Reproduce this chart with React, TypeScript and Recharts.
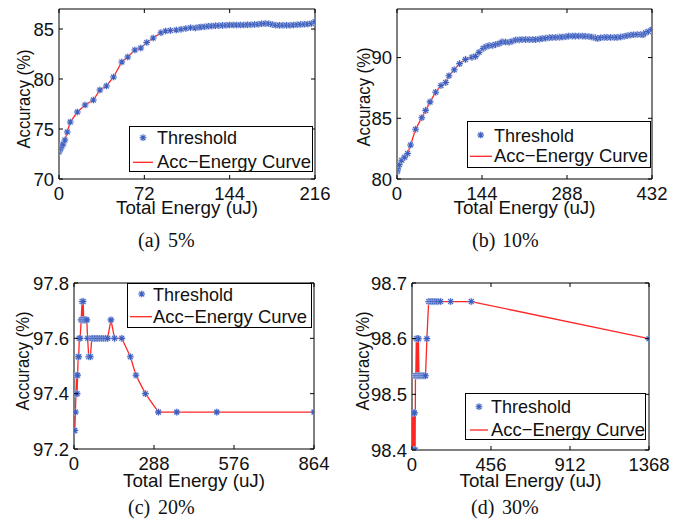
import React from 'react';
import { LineChart, Line, XAxis, YAxis, ReferenceArea, Legend } from 'recharts';

// ---------- data ----------
const aX = [0, 0.5, 1, 1.5, 2.5, 3.5, 5, 7, 9.5, 15.5, 22, 29, 34.5, 40, 46, 53, 58, 64, 69, 74, 79.5, 86, 90, 94, 99, 103, 107, 111, 115, 118, 120, 123, 126, 129, 132, 135, 138, 141, 144, 147, 150, 153, 156, 159, 162, 165, 168, 171, 174, 177, 180, 183, 186, 189, 192, 195, 198, 201, 204, 207, 210, 213, 216];
const aY = [72.7, 72.9, 73.0, 73.1, 73.3, 73.5, 73.9, 74.7, 75.7, 76.7, 77.4, 77.9, 78.9, 79.3, 80.2, 81.7, 82.2, 82.9, 83.1, 83.65, 84.1, 84.63, 84.8, 84.85, 84.9, 84.97, 85.05, 85.13, 85.1, 85.17, 85.2, 85.22, 85.28, 85.3, 85.32, 85.34, 85.36, 85.38, 85.4, 85.4, 85.4, 85.4, 85.4, 85.42, 85.43, 85.45, 85.47, 85.52, 85.54, 85.53, 85.45, 85.38, 85.37, 85.37, 85.37, 85.38, 85.4, 85.43, 85.46, 85.48, 85.5, 85.55, 85.73];

const bX = [0, 0.5, 1, 2, 4, 8, 13, 18, 23, 31.5, 42, 48.5, 56, 65.5, 74.5, 82.5, 88, 97, 106, 116, 127, 133, 139, 146, 151, 156, 162, 167, 173, 178, 184, 190, 195, 201, 207, 212, 218, 224, 230, 235, 241, 246, 252, 258, 263, 269, 275, 280, 286, 291, 297, 302, 308, 314, 319, 325, 330, 336, 340, 345, 351, 356, 362, 368, 373, 379, 385, 390, 396, 401, 407, 413, 417, 421, 426, 432];
const bY = [80.6, 80.7, 80.8, 81.0, 81.2, 81.55, 81.8, 82.1, 82.8, 84.1, 85.05, 85.65, 86.35, 87.15, 87.7, 87.95, 88.5, 89.0, 89.5, 89.85, 90.02, 90.1, 90.43, 90.76, 90.9, 90.98, 91.0, 91.07, 91.15, 91.29, 91.28, 91.26, 91.35, 91.45, 91.46, 91.48, 91.48, 91.48, 91.48, 91.48, 91.52, 91.56, 91.6, 91.64, 91.65, 91.66, 91.68, 91.7, 91.72, 91.77, 91.77, 91.77, 91.77, 91.77, 91.76, 91.74, 91.7, 91.62, 91.58, 91.63, 91.66, 91.66, 91.66, 91.66, 91.66, 91.7, 91.75, 91.8, 91.86, 91.88, 91.9, 91.9, 91.88, 92.05, 92.15, 92.32];

const cX = [0, 3, 5, 7, 9, 11, 13, 15, 17, 19, 22, 26, 29, 31, 33, 35, 38, 42, 46, 49, 53, 59, 64, 68, 74, 80, 86, 93, 100, 107, 114, 121, 133, 146, 172, 203, 223, 257, 304, 370, 514, 864];
const cY = [97.2667, 97.2667, 97.3333, 97.4, 97.4667, 97.4, 97.4667, 97.5333, 97.5333, 97.6, 97.6, 97.6667, 97.7333, 97.6667, 97.7333, 97.6667, 97.6667, 97.6667, 97.6667, 97.6, 97.5333, 97.5333, 97.6, 97.6, 97.6, 97.6, 97.6, 97.6, 97.6, 97.6, 97.6, 97.6, 97.6667, 97.6, 97.6, 97.5333, 97.4667, 97.4, 97.3333, 97.3333, 97.3333, 97.3333];

const dX = [0, 2, 4, 6, 8, 10, 12, 14, 16, 18, 20, 22, 25, 28, 31, 34, 37, 40, 44, 50, 57, 64, 70, 78, 86, 96, 104, 112, 120, 130, 140, 150, 165, 223, 342, 1368];
const dY = [98.4667, 98.4, 98.4667, 98.4, 98.4667, 98.4, 98.4, 98.4667, 98.4, 98.4, 98.5333, 98.5333, 98.6, 98.5333, 98.6, 98.5333, 98.6, 98.5333, 98.5333, 98.5333, 98.5333, 98.5333, 98.5333, 98.5333, 98.6, 98.6667, 98.6667, 98.6667, 98.6667, 98.6667, 98.6667, 98.6667, 98.6667, 98.6667, 98.6667, 98.6];

const aXTicks = [0, 72, 144, 216];
const aYTicks = [70, 75, 80, 85];
const bXTicks = [0, 144, 288, 432];
const bYTicks = [80, 85, 90];
const cXTicks = [0, 288, 576, 864];
const cYTicks = [97.2, 97.4, 97.6, 97.8];
const dXTicks = [0, 456, 912, 1368];
const dYTicks = [98.4, 98.5, 98.6, 98.7];

const seriesNames = ['Threshold', 'Acc\u2212Energy Curve'];
const xTitle = 'Total Energy (uJ)';
const yTitle = 'Accuracy (%)';

// ---------- styling ----------
const FONT = '"Liberation Sans", Arial, Helvetica, sans-serif';
const SERIF = '"Liberation Serif", "Times New Roman", serif';
const FS = 18.5;
const MARK = '#3d5fbf';
const RED = '#ff2626';
const INK = '#111';

const asteriskPath = (cx: number, cy: number, r: number) => {
  const k = r * 0.72;
  return `M${cx - r},${cy}h${2 * r}M${cx},${cy - r}v${2 * r}M${cx - k},${cy - k}l${2 * k},${2 * k}M${cx - k},${cy + k}l${2 * k},${-2 * k}`;
};

const Asterisk = (p: any) => {
  const { cx, cy } = p;
  if (cx == null || cy == null) return <g key={p.index} />;
  return (
    <g key={p.index}>
      <circle cx={cx} cy={cy} r={3.6} fill="#c5d0ee" opacity={0.5} />
      <path d={asteriskPath(cx, cy, 3.3)} stroke={MARK} strokeWidth={1.1} fill="none" />
    </g>
  );
};

type Leg = { l: number; t: number; w: number; h: number; mx: number; my: number; b1: number; lx1: number; lx2: number; ly: number; b2: number; tx: number };

type Spec = {
  box: { l: number; t: number; w: number; h: number };
  plot: { l: number; t: number; r: number; b: number };
  xs: number[];
  ys: number[];
  xDomain: [number, number];
  yDomain: [number, number];
  xTicks: number[];
  yTicks: number[];
  legend: Leg;
  ylab: { x: number; y: number };
  xlabBase: number;
  cap: { a: string; b: string; ax: number; bx: number; base: number };
};

const LegendBox = ({ g }: { g: Leg }) => (
  <svg width={g.w} height={g.h} style={{ display: 'block' }}>
    <rect x={0.5} y={0.5} width={g.w - 1} height={g.h - 1} fill="#fff" stroke="#000" strokeWidth={1} />
    <circle cx={g.mx} cy={g.my} r={3.6} fill="#c5d0ee" opacity={0.5} />
    <path d={asteriskPath(g.mx, g.my, 3.3)} stroke={MARK} strokeWidth={1.1} fill="none" />
    <line x1={g.lx1} x2={g.lx2} y1={g.ly} y2={g.ly} stroke={RED} strokeWidth={1.3} />
    <text x={g.tx} y={g.b1} fontFamily={FONT} fontSize={FS} fill={INK} textLength={80} lengthAdjust="spacingAndGlyphs">
      {seriesNames[0]}
    </text>
    <text x={g.tx} y={g.b2} fontFamily={FONT} fontSize={FS} fill={INK} textLength={154} lengthAdjust="spacingAndGlyphs">
      {seriesNames[1]}
    </text>
  </svg>
);

function Panel({ s }: { s: Spec }) {
  const data = s.xs.map((x, i) => ({ x, y: s.ys[i] }));
  const rl = s.plot.l - s.box.l;
  const rr = s.plot.r - s.box.l;
  const rt = s.plot.t - s.box.t;
  const rb = s.plot.b - s.box.t;
  const xAxisH = s.box.h - rb;
  const XM = 8;
  const YM = 5;

  const xTick = (p: any) => (
    <g key={`xt${p.index}`}>
      <line x1={p.x} x2={p.x} y1={rb} y2={rb - 4} stroke="#000" />
      <line x1={p.x} x2={p.x} y1={rt} y2={rt + 4} stroke="#000" />
      <text x={p.x} y={rb + XM} dy="0.71em" textAnchor="middle" fontFamily={FONT} fontSize={FS} fill={INK}>
        {p.payload.value}
      </text>
    </g>
  );
  const yTick = (p: any) => (
    <g key={`yt${p.index}`}>
      <line x1={rl} x2={rl + 4} y1={p.y} y2={p.y} stroke="#000" />
      <line x1={rr} x2={rr - 4} y1={p.y} y2={p.y} stroke="#000" />
      <text x={rl - YM} y={p.y} dy="0.36em" textAnchor="end" fontFamily={FONT} fontSize={FS} fill={INK}>
        {p.payload.value}
      </text>
    </g>
  );

  return (
    <div style={{ position: 'absolute', left: s.box.l, top: s.box.t, width: s.box.w, height: s.box.h }}>
      <LineChart width={s.box.w} height={s.box.h} data={data} margin={{ top: rt, right: s.box.w - rr, left: 0, bottom: 0 }}>
        <XAxis
          dataKey="x"
          type="number"
          domain={s.xDomain}
          ticks={s.xTicks}
          interval={0}
          allowDataOverflow
          height={xAxisH}
          tickSize={0}
          tickMargin={XM}
          axisLine={false}
          tick={xTick}
          label={{
            content: () => (
              <text x={(rl + rr) / 2} y={s.xlabBase} textAnchor="middle" fontFamily={FONT} fontSize={FS} fill={INK} textLength={142} lengthAdjust="spacingAndGlyphs">
                {xTitle}
              </text>
            ),
          }}
        />
        <YAxis
          type="number"
          domain={s.yDomain}
          ticks={s.yTicks}
          interval={0}
          allowDataOverflow
          width={rl}
          tickSize={0}
          tickMargin={YM}
          axisLine={false}
          tick={yTick}
          label={{
            content: () => (
              <text
                x={s.ylab.x}
                y={s.ylab.y}
                dy="0.36em"
                textAnchor="middle"
                transform={`rotate(-90 ${s.ylab.x} ${s.ylab.y})`}
                fontFamily={FONT}
                fontSize={FS}
                fill={INK}
                textLength={99}
                lengthAdjust="spacingAndGlyphs"
              >
                {yTitle}
              </text>
            ),
          }}
        />
        <ReferenceArea
          x1={s.xDomain[0]}
          x2={s.xDomain[1]}
          y1={s.yDomain[0]}
          y2={s.yDomain[1]}
          fill="none"
          fillOpacity={0}
          stroke="#000"
          strokeWidth={1}
          ifOverflow="visible"
        />
        <Line dataKey="y" type="linear" stroke="none" strokeWidth={0} dot={Asterisk} activeDot={false} isAnimationActive={false} />
        <Line dataKey="y" type="linear" stroke={RED} strokeWidth={1.3} dot={false} activeDot={false} isAnimationActive={false} />
        <Legend
          layout="horizontal"
          verticalAlign="middle"
          align="center"
          wrapperStyle={{ left: s.legend.l, top: s.legend.t, width: s.legend.w, height: s.legend.h }}
          content={() => <LegendBox g={s.legend} />}
        />
      </LineChart>
      <svg width={s.box.w} height={s.box.h} style={{ position: 'absolute', left: 0, top: 0, pointerEvents: 'none' }}>
        <text x={s.cap.ax} y={s.cap.base} fontFamily={SERIF} fontSize={20} fill={INK}>{s.cap.a}</text>
        <text x={s.cap.bx} y={s.cap.base} fontFamily={SERIF} fontSize={20} fill={INK}>{s.cap.b}</text>
      </svg>
    </div>
  );
}

const specs: Spec[] = [
  {
    box: { l: 0, t: 0, w: 344, h: 260 },
    plot: { l: 59, t: 9, r: 315, b: 179 },
    xs: aX, ys: aY, xDomain: [0, 216], yDomain: [70, 87], xTicks: aXTicks, yTicks: aYTicks,
    legend: { l: 129, t: 126, w: 184, h: 46, mx: 14, my: 11.7, b1: 18.3, lx1: 4, lx2: 24, ly: 36.3, b2: 42.3, tx: 28 },
    ylab: { x: 23, y: 99 }, xlabBase: 214,
    cap: { a: '(a)', b: '5%', ax: 138, bx: 168, base: 247 },
  },
  {
    box: { l: 344, t: 0, w: 343, h: 260 },
    plot: { l: 397, t: 9, r: 652, b: 179 },
    xs: bX, ys: bY, xDomain: [0, 432], yDomain: [80, 94], xTicks: bXTicks, yTicks: bYTicks,
    legend: { l: 123, t: 121, w: 184, h: 47, mx: 13.7, my: 14, b1: 20.7, lx1: 3, lx2: 25, ly: 35.3, b2: 41.3, tx: 27 },
    ylab: { x: 19, y: 97 }, xlabBase: 214,
    cap: { a: '(b)', b: '10%', ax: 128, bx: 158, base: 247 },
  },
  {
    box: { l: 0, t: 260, w: 344, h: 263 },
    plot: { l: 74, t: 283, r: 314, b: 449 },
    xs: cX, ys: cY, xDomain: [0, 864], yDomain: [97.2, 97.8], xTicks: cXTicks, yTicks: cYTicks,
    legend: { l: 127, t: 23, w: 185, h: 45, mx: 14.7, my: 11, b1: 17.7, lx1: 3, lx2: 25, ly: 33.7, b2: 39.7, tx: 26 },
    ylab: { x: 22, y: 101 }, xlabBase: 227,
    cap: { a: '(c)', b: '20%', ax: 128, bx: 158, base: 254 },
  },
  {
    box: { l: 344, t: 260, w: 343, h: 263 },
    plot: { l: 412, t: 283, r: 649, b: 450 },
    xs: dX, ys: dY, xDomain: [0, 1368], yDomain: [98.4, 98.7], xTicks: dXTicks, yTicks: dYTicks,
    legend: { l: 121, t: 133, w: 181, h: 47, mx: 14, my: 13.7, b1: 19.7, lx1: 5, lx2: 23, ly: 37, b2: 42.7, tx: 26 },
    ylab: { x: 18, y: 101 }, xlabBase: 227,
    cap: { a: '(d)', b: '30%', ax: 127, bx: 158, base: 254 },
  },
];

export default function App() {
  return (
    <div style={{ position: 'absolute', left: 0, top: 0, width: 687, height: 523, background: '#fff' }}>
      {specs.map((s, i) => (
        <Panel key={i} s={s} />
      ))}
    </div>
  );
}
